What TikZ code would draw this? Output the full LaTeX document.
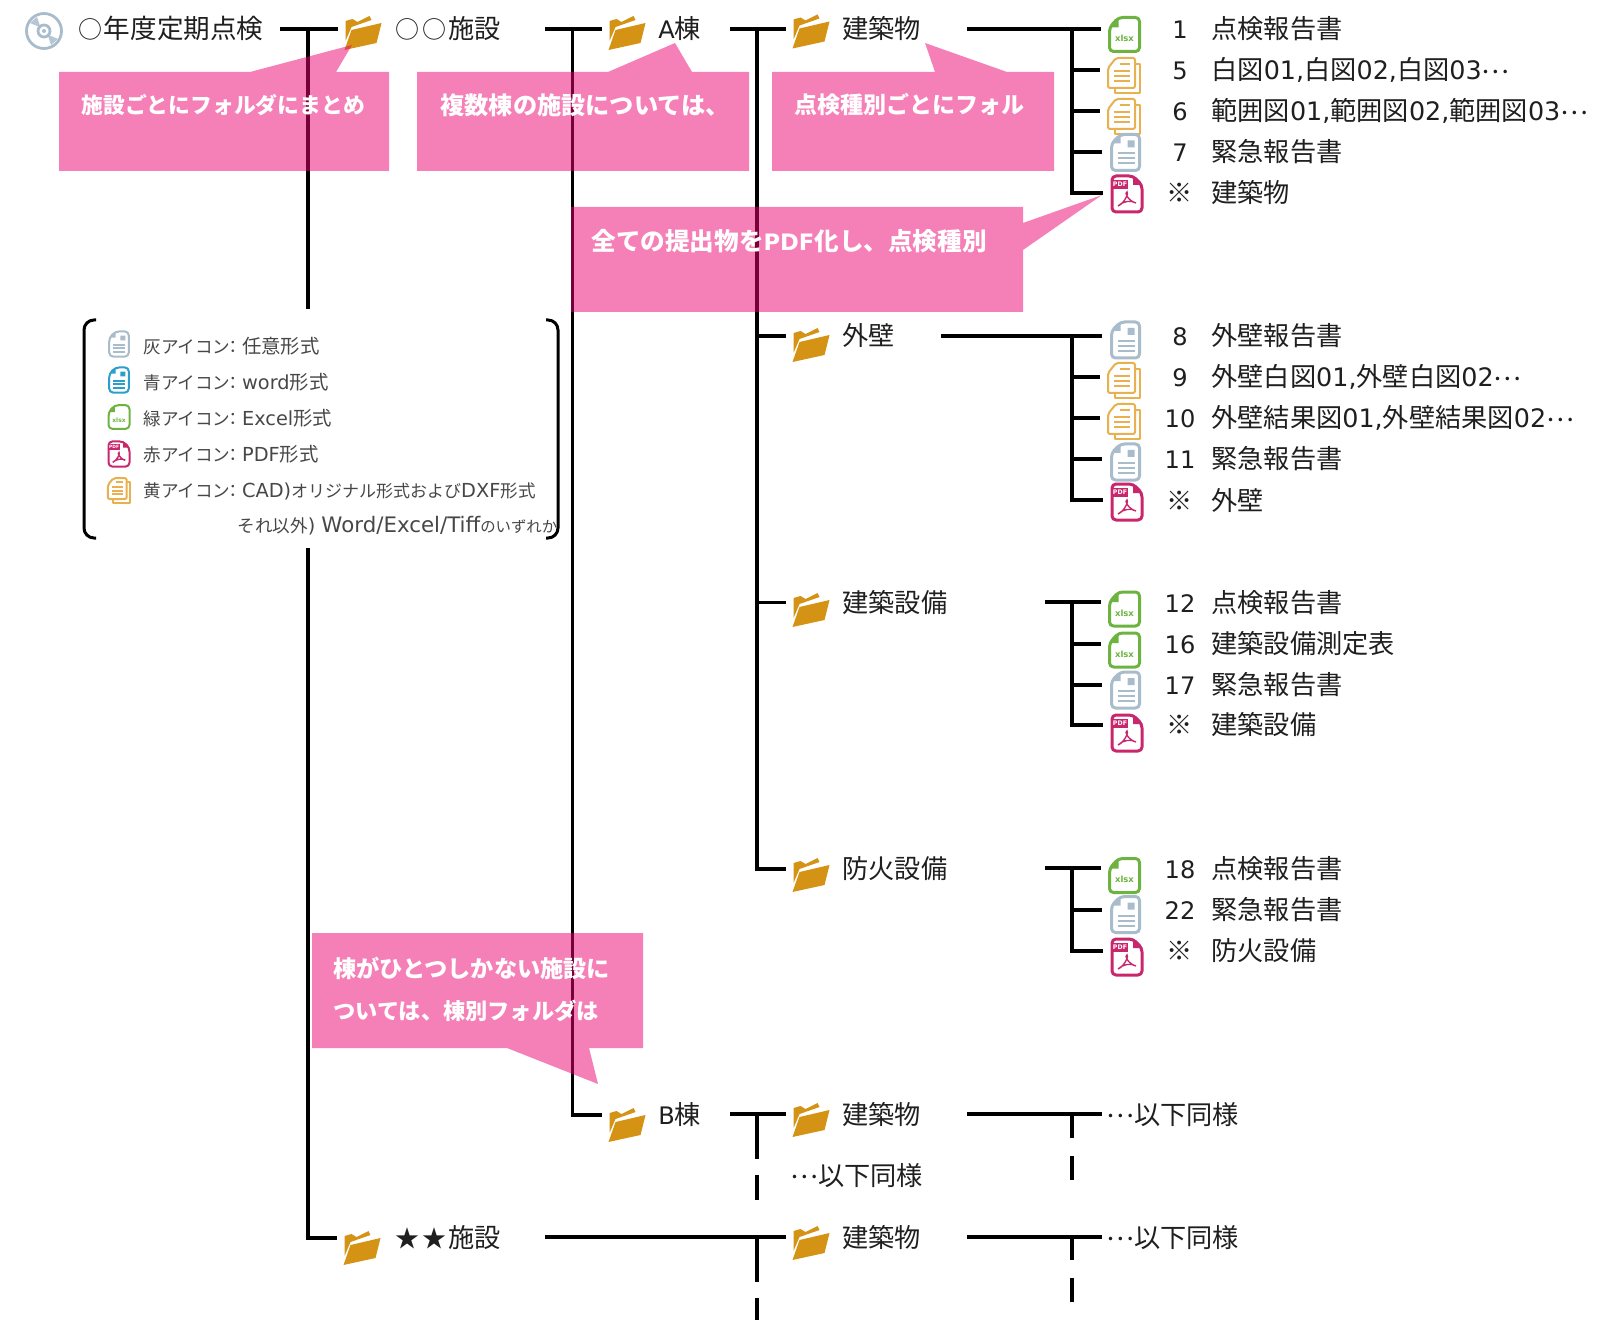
\documentclass[tikz,border=0pt]{standalone}
\usepackage{fontspec}
\setmainfont{Noto Sans CJK JP}
\newfontfamily\ltn[Scale=0.92]{DejaVu Sans}
\newfontfamily\ltnw[Scale=0.97]{DejaVu Sans}
\newcommand{\ltxt}[1]{{\ltn #1}}
\newcommand{\wtxt}[1]{{\ltnw #1}}
\newcommand{\mdots}{\raisebox{3.4pt}{…}}
\newcommand{\keytxt}[1]{{\ltn\fontsize{10.5pt}{12pt}\selectfont #1}}
\newcommand{\keyform}[1]{{\fontsize{9.7pt}{10pt}\selectfont #1}}
\newcommand{\bsize}[1]{\fontsize{#1pt}{14pt}\selectfont}
\newcommand{\smallmark}[1]{\makebox[13.5pt]{\fontsize{12pt}{12pt}\selectfont #1}}
\definecolor{folderc}{HTML}{D49314}
\definecolor{xlsxc}{HTML}{6CB33F}
\definecolor{cadc}{HTML}{E8B04F}
\definecolor{grayc}{HTML}{A9BCCC}
\definecolor{pdfc}{HTML}{C8276C}
\definecolor{wordc}{HTML}{2A9FCB}
\definecolor{pinkc}{HTML}{EC006F}
\tikzset{
  tree/.style={draw=black, line width=1.6pt, line cap=rect},
  iconline/.style={line width=1.5pt, line join=round},
  iconbox/.style={inner sep=0, minimum width=50*0.5pt, minimum height=20pt},
  folderbox/.style={inner sep=0, minimum width=53*0.5pt, minimum height=20pt},
  lbl/.style={anchor=west, inner sep=0, text height=11.5pt, text depth=1.5pt,
    text=black!88, font=\fontsize{13.1pt}{15pt}\selectfont},
  numlbl/.style={lbl, anchor=center},
  keylbl/.style={lbl, text height=8pt, text depth=1pt, text=black!72,
    font=\fontsize{8.8pt}{10pt}\selectfont},
  smallicon/.style={scale=.7, iconline/.style={line width=1pt, line join=round}},
  callout/.style={fill=pinkc, fill opacity=.5},
  calloutlbl/.style={anchor=west, inner sep=0, text=white,
    font=\fontsize{10.9pt}{13pt}\selectfont\bfseries},
  bracket/.style={draw=black, line width=1.5pt, rounded corners=5pt},
  folder/.pic={
    \fill[folderc] (-18.5,17) -- (-11.5,-3) -- (18.5,-10) -- (13.5,10) -- cycle;
    \fill[folderc] (-17.5,-12) -- (-10.5,-14) -- (-5.5,-11) -- (6.5,-17) -- (8.5,-13)
      -- (-11.5,-6) -- (-17.5,8) -- cycle;
    \node[folderbox] (-b) at (0,0) {};
  },
  xlsxdoc/.pic={
    \draw[iconline, draw=xlsxc, rounded corners=2pt] (-15,-7) -- (-6,-17) -- (15,-17)
      -- (15,17) -- (-15,17) -- cycle;
    \fill[xlsxc] (-15,-7) -- (-6,-17) -- (-6,-7) -- cycle;
    \node[transform shape, inner sep=0, text=xlsxc, font=\fontsize{4.6pt}{5pt}\selectfont\ltn\bfseries]
      (-t) at (0,4) {xlsx};
    \node[iconbox] (-b) at (0,0) {};
  },
  caddoc/.pic={
    \draw[iconline, draw=cadc, line width=1pt] (11,-11) -- (16,-11) -- (16,18) -- (-9,18) -- (-9,13);
    \draw[iconline, draw=cadc, line width=1pt, rounded corners=1pt] (-16,-7) -- (-8,-17) -- (11,-17)
      -- (11,13) -- (-16,13) -- cycle;
    \draw[draw=cadc, line width=1pt] (-4,-11) -- (6,-11) (-10,-4) -- (6,-4) (-10,1) -- (6,1) (-10,6) -- (6,6);
    \node[iconbox] (-b) at (0,0) {};
  },
  textdoc/.pic={
    \draw[iconline, draw=\pgfkeysvalueof{/tikz/doc color}, rounded corners=2pt] (-14,-9) -- (-5,-18) -- (14,-18)
      -- (14,18) -- (-14,18) -- cycle;
    \fill[\pgfkeysvalueof{/tikz/doc color}] (-14,-9) -- (-5,-18) -- (-5,-9) -- cycle (2,-12) rectangle (9,-5);
    \draw[draw=\pgfkeysvalueof{/tikz/doc color}, line width=1pt] (-8,1) -- (9,1) (-8,6) -- (9,6) (-8,11) -- (9,11);
    \node[iconbox] (-b) at (0,0) {};
  },
  doc color/.initial=grayc,
  pdfdoc/.pic={
    \draw[iconline, draw=pdfc, rounded corners=2pt] (-15,-18) -- (6,-18) -- (15,-9)
      -- (15,18) -- (-15,18) -- cycle;
    \fill[pdfc] (6,-18) -- (15,-9) -- (6,-9) -- cycle;
    \fill[pdfc] (-15,-14) rectangle (1,-5);
    \node[transform shape, inner sep=0, text=white, font=\fontsize{3.4pt}{4pt}\selectfont\ltn\bfseries]
      (-t) at (-7,-9.5) {PDF};
    \draw[pdfc, line width=.7pt] (-9,12) .. controls (-2,9) and (2,-2) .. (0,-2)
      .. controls (-3,-2) and (1,7) .. (9,9) .. controls (4,6) and (-4,7) .. (-9,12);
    \node[iconbox] (-b) at (0,0) {};
  },
  discicon/.pic={
    \draw[grayc, line width=1.4pt] (0,0) circle (17.5);
    \fill[grayc!85] (-14,-8) -- (-7,-14) -- (-3.5,-3.5) -- cycle (14,8) -- (7,14) -- (3.5,3.5) -- cycle;
    \draw[grayc, line width=1.4pt, fill=white] (0,0) circle (6);
    \fill[grayc] (0,0) circle (2);
    \node[iconbox, minimum width=36*0.5pt] (-b) at (0,0) {};
  },
}

\begin{document}
\begin{tikzpicture}[x=0.5pt, y=-0.5pt]
  \useasboundingbox (0,0) rectangle (1615,1320);

  % top row
  \pic (disc) at (44,31) {discicon};
  \node[lbl, text width=102pt] (root) at (77,29) {\smallmark{○}\hspace{-.3pt}{\fontsize{13.3pt}{15pt}\selectfont 年度定期点検}};
  \pic (fa) at (363,33) {folder};
  \node[lbl, text width=76pt] (facA) at (394,29) {\smallmark{○}\smallmark{○}施設};
  \pic (ba) at (627,33) {folder};
  \node[lbl, text width=36.5pt] (bldA) at (658,29) {\ltxt{A}棟};
  \pic (k1) at (811,31.5) {folder};
  \node[lbl, text width=63pt] (kenA) at (842,29) {建築物};

  % files of the first block
  \pic (x1) at (1124.5,34.5) {xlsxdoc};
  \pic (c5) at (1124,75) {caddoc};
  \pic (c6) at (1124,116) {caddoc};
  \pic (g7) at (1125.5,152.5) {textdoc};
  \pic (p1) at (1127,194) {pdfdoc};
  \node[numlbl] (n1) at (1180,29) {\ltxt{1}};
  \node[numlbl] (n5) at (1180,70) {\ltxt{5}};
  \node[numlbl] (n6) at (1180,111) {\ltxt{6}};
  \node[numlbl] (n7) at (1180,152) {\ltxt{7}};
  \node[numlbl] (n8) at (1180,193) {※};
  \node[lbl] (t1) at (1211,29) {点検報告書};
  \node[lbl] (t5) at (1211,70) {白図\wtxt{01,}白図\wtxt{02,}白図\wtxt{03}\mdots};
  \node[lbl] (t6) at (1211,111) {範囲図\wtxt{01,}範囲図\wtxt{02,}範囲図\wtxt{03}\mdots};
  \node[lbl] (t7) at (1211,152) {緊急報告書};
  \node[lbl] (t8) at (1211,193) {建築物};

  % outer walls
  \pic (k2) at (811,345) {folder};
  \node[lbl, text width=50pt] (gai) at (842,336) {外壁};
  \pic (g8) at (1125.5,340) {textdoc};
  \pic (c9) at (1124,380) {caddoc};
  \pic (c10) at (1124,421) {caddoc};
  \pic (g11) at (1125.5,462) {textdoc};
  \pic (p2) at (1127,502) {pdfdoc};
  \node[numlbl] (n9) at (1180,336) {\ltxt{8}};
  \node[numlbl] (n10) at (1180,377) {\ltxt{9}};
  \node[numlbl] (n11) at (1180,418) {\ltxt{10}};
  \node[numlbl] (n12) at (1180,458) {\ltxt{11}};
  \node[numlbl] (n13) at (1180,500) {※};
  \node[lbl] (t9) at (1211,336) {外壁報告書};
  \node[lbl] (t10) at (1211,377) {外壁白図\wtxt{01,}外壁白図\wtxt{02}\mdots};
  \node[lbl] (t11) at (1211,418) {外壁結果図\wtxt{01,}外壁結果図\wtxt{02}\mdots};
  \node[lbl] (t12) at (1211,458) {緊急報告書};
  \node[lbl] (t13) at (1211,500) {外壁};

  % building services
  \pic (k3) at (811,610) {folder};
  \node[lbl, text width=102pt] (set) at (842,602) {建築設備};
  \pic (x12) at (1124.5,609) {xlsxdoc};
  \pic (x16) at (1124.5,650) {xlsxdoc};
  \pic (g17) at (1125.5,690) {textdoc};
  \pic (p3) at (1127,733) {pdfdoc};
  \node[numlbl] (n14) at (1180,602) {\ltxt{12}};
  \node[numlbl] (n15) at (1180,643) {\ltxt{16}};
  \node[numlbl] (n16) at (1180,684) {\ltxt{17}};
  \node[numlbl] (n17) at (1180,724) {※};
  \node[lbl] (t14) at (1211,602) {点検報告書};
  \node[lbl] (t15) at (1211,643) {建築設備測定表};
  \node[lbl] (t16) at (1211,684) {緊急報告書};
  \node[lbl] (t17) at (1211,724) {建築設備};

  % fire equipment
  \pic (k4) at (811,875) {folder};
  \node[lbl, text width=102pt] (fire) at (842,868) {防火設備};
  \pic (x18) at (1124.5,875.5) {xlsxdoc};
  \pic (g22) at (1125.5,914.5) {textdoc};
  \pic (p4) at (1127,957) {pdfdoc};
  \node[numlbl] (n18) at (1180,868) {\ltxt{18}};
  \node[numlbl] (n19) at (1180,909) {\ltxt{22}};
  \node[numlbl] (n20) at (1180,950) {※};
  \node[lbl] (t18) at (1211,868) {点検報告書};
  \node[lbl] (t19) at (1211,909) {緊急報告書};
  \node[lbl] (t20) at (1211,950) {防火設備};

  % B and star rows
  \pic (bb) at (627,1125) {folder};
  \node[lbl, text width=36.5pt] (bldB) at (658,1114) {\ltxt{B}棟};
  \pic (k5) at (811,1120) {folder};
  \node[lbl, text width=63pt] (kenB) at (842,1114) {建築物};
  \node[lbl] (samB) at (1106,1114) {\mdots 以下同様};
  \node[lbl] (samC) at (790,1175) {\mdots 以下同様};
  \pic (fb) at (362,1248) {folder};
  \node[lbl, text width=76pt] (facB) at (394,1237) {\smallmark{★}\smallmark{★}施設};
  \pic (k6) at (811,1243) {folder};
  \node[lbl, text width=63pt] (kenC) at (842,1237) {建築物};
  \node[lbl] (samD) at (1106,1237) {\mdots 以下同様};

  % tree junctions
  \coordinate (v1a) at (308,29);
  \coordinate (v1b) at (308,307);
  \coordinate (v1c) at (308,550);
  \coordinate (v1d) at (308,1238);
  \coordinate (v2a) at (572.5,29);
  \coordinate (v2b) at (572.5,1115);
  \coordinate (v3a) at (757,29);
  \coordinate (v3b) at (757,336);
  \coordinate (v3c) at (757,602.5);
  \coordinate (v3d) at (757,869);
  \coordinate (r1) at (1072,29);
  \coordinate (r5) at (1072,70);
  \coordinate (r6) at (1072,111);
  \coordinate (r7) at (1072,152);
  \coordinate (r8) at (1072,193);
  \coordinate (r9) at (1072,336);
  \coordinate (r10) at (1072,377);
  \coordinate (r11) at (1072,418);
  \coordinate (r12) at (1072,459);
  \coordinate (r13) at (1072,500);
  \coordinate (r14) at (1072,602.5);
  \coordinate (r15) at (1072,644);
  \coordinate (r16) at (1072,685);
  \coordinate (r17) at (1072,725);
  \coordinate (r18) at (1072,869);
  \coordinate (r19) at (1072,910);
  \coordinate (r20) at (1072,951);
  \coordinate (e1) at (1100,1114);
  \coordinate (e2) at (1100,1237);
  \coordinate (d1a) at (757,1114);
  \coordinate (d1b) at (757,1157);
  \coordinate (d1c) at (757,1177);
  \coordinate (d1d) at (757,1198);
  \coordinate (d2a) at (1072,1114);
  \coordinate (d2b) at (1072,1136);
  \coordinate (d2c) at (1072,1158);
  \coordinate (d2d) at (1072,1178);
  \coordinate (d3a) at (757,1237);
  \coordinate (d3b) at (757,1280);
  \coordinate (d3c) at (757,1300);
  \coordinate (d3d) at (757,1320);
  \coordinate (d4a) at (1072,1237);
  \coordinate (d4b) at (1072,1258);
  \coordinate (d4c) at (1072,1280);
  \coordinate (d4d) at (1072,1300);

  \path[tree] (root.east) edge (root.east -| fa-b.west)
        (v1a) edge (v1b)
        (v1c) edge (v1d)
        (v1d) edge (v1d -| fb-b.west)
        (facA.east) edge (facA.east -| ba-b.west)
        (v2a) edge (v2b)
        (v2b) edge (v2b -| bb-b.west)
        (bldA.east) edge (bldA.east -| k1-b.west)
        (v3a) edge (v3d)
        (v3b) edge (v3b -| k2-b.west)
        (v3c) edge (v3c -| k3-b.west)
        (v3d) edge (v3d -| k4-b.west)
        (kenA.east) edge (kenA.east -| x1-b.west)
        (r1) edge (r8)
        (r5) edge (r5 -| c5-b.west)
        (r6) edge (r6 -| c6-b.west)
        (r7) edge (r7 -| g7-b.west)
        (r8) edge (r8 -| p1-b.west)
        (gai.east) edge (gai.east -| g8-b.west)
        (r9) edge (r13)
        (r10) edge (r10 -| c9-b.west)
        (r11) edge (r11 -| c10-b.west)
        (r12) edge (r12 -| g11-b.west)
        (r13) edge (r13 -| p2-b.west)
        (set.east) edge (set.east -| x12-b.west)
        (r14) edge (r17)
        (r15) edge (r15 -| x16-b.west)
        (r16) edge (r16 -| g17-b.west)
        (r17) edge (r17 -| p3-b.west)
        (fire.east) edge (fire.east -| x18-b.west)
        (r18) edge (r20)
        (r19) edge (r19 -| g22-b.west)
        (r20) edge (r20 -| p4-b.west)
        (bldB.east) edge (bldB.east -| k5-b.west)
        (kenB.east) edge (e1)
        (facB.east) edge (facB.east -| k6-b.west)
        (kenC.east) edge (e2)
        (d1a) edge (d1b) (d1c) edge (d1d)
        (d2a) edge (d2b) (d2c) edge (d2d)
        (d3a) edge (d3b) (d3c) edge (d3d)
        (d4a) edge (d4b) (d4c) edge (d4d);

  % legend
  \draw[bracket] (96,320) -| (84,538) -- (96,538);
  \draw[bracket] (546,320) -| (558,538) -- (546,538);
  \pic[smallicon] (kg) at (119,344) {textdoc};
  \pic[smallicon, doc color=wordc] (kw) at (119,380) {textdoc};
  \pic[smallicon] (kx) at (119,417) {xlsxdoc};
  \pic[smallicon] (kp) at (119,454) {pdfdoc};
  \pic[smallicon] (kc) at (119,490) {caddoc};
  \node[keylbl] (l1) at (143,347) {灰アイコン\hspace{-3pt}：\keyform{任意形式}};
  \node[keylbl] (l2) at (143,383) {青アイコン\hspace{-3pt}：\keytxt{word}\keyform{形式}};
  \node[keylbl] (l3) at (143,419) {緑アイコン\hspace{-3pt}：\keytxt{Excel}\keyform{形式}};
  \node[keylbl] (l4) at (143,454.5) {赤アイコン\hspace{-3pt}：\keytxt{PDF}\keyform{形式}};
  \node[keylbl] (l5) at (143,490) {黄アイコン\hspace{-3pt}：\keytxt{CAD)}{\fontsize{8.5pt}{10pt}\selectfont オリジナル形式および}\keytxt{DXF}形式};
  \node[keylbl] (l6) at (237,525.5) {それ以外\keytxt{) }{\ltn\fontsize{11.6pt}{12pt}\selectfont Word/Excel/Tiff}{\fontsize{7.7pt}{10pt}\selectfont のいずれか}};

  % pink balloons
  \fill[callout] (59,72) -- (250,72) -- (352,45) -- (336,72) -- (389,72) -- (389,171) -- (59,171) -- cycle;
  \fill[callout] (417,72) -- (608,72) -- (675,43) -- (692,72) -- (749,72) -- (749,171) -- (417,171) -- cycle;
  \fill[callout] (772,72) -- (935,72) -- (925,43) -- (1007,72) -- (1054,72) -- (1054,171) -- (772,171) -- cycle;
  \fill[callout] (571,207) -- (1023,207) -- (1023,223) -- (1102,195) -- (1023,250) -- (1023,312) -- (571,312) -- cycle;
  \fill[callout] (312,933) -- (643,933) -- (643,1048) -- (589,1048) -- (598,1084) -- (507,1048) -- (312,1048) -- cycle;
  \node[calloutlbl] (b1) at (81,105) {施設ごとにフォルダにまとめ};
  \node[calloutlbl] (b2) at (440,105) {\bsize{12.1}複数棟の施設については、};
  \node[calloutlbl] (b3) at (794,105) {\bsize{11.5}点検種別ごとにフォル};
  \node[calloutlbl] (b4) at (591,241) {\bsize{12.3}全ての提出物を\ltxt{PDF}化し、点検種別};
  \node[calloutlbl] (b5) at (333,968) {\bsize{11.6}棟がひとつしかない施設に};
  \node[calloutlbl] (b6) at (333,1011) {\bsize{11.1}ついては、棟別フォルダは};
\end{tikzpicture}
\end{document}
